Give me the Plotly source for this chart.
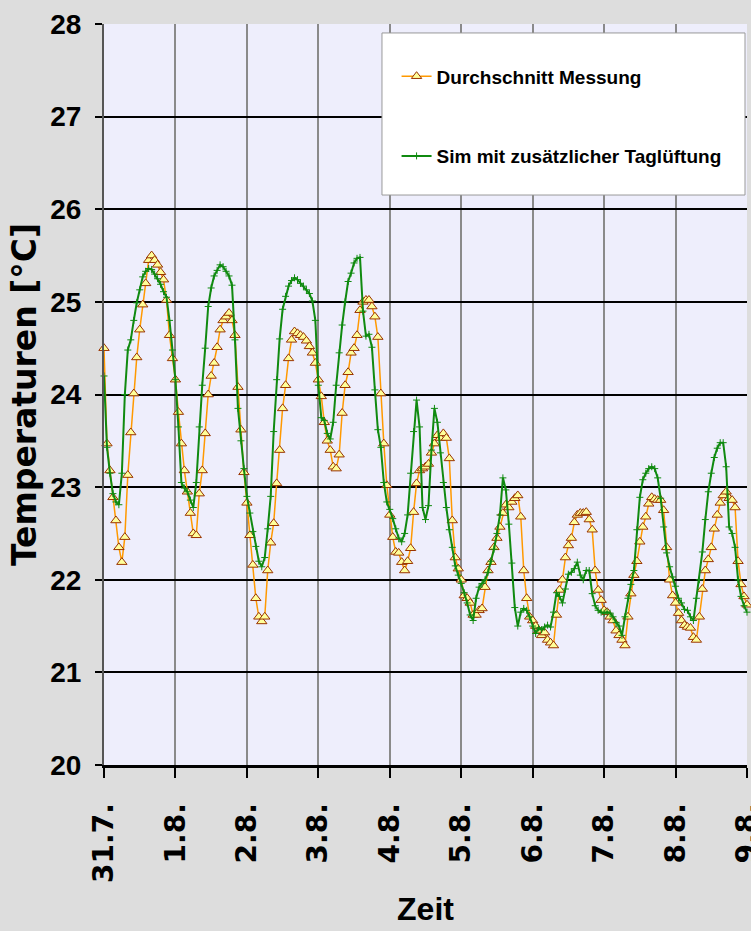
import plotly.graph_objects as go

# ---------------- data ----------------
tick_labels = ["31.7.", "1.8.", "2.8.", "3.8.", "4.8.", "5.8.", "6.8.", "7.8.", "8.8.", "9.8."]

# hourly measured average temperature [°C], 31.7. 00:00 ... 9.8. 00:00
mess_d0 = [24.5, 23.47, 23.18, 22.89, 22.64, 22.35, 22.19, 22.46, 23.13, 23.59, 24.01, 24.40,
           24.70, 24.97, 25.20, 25.45, 25.50, 25.45, 25.40, 25.32, 25.24, 25.02, 24.64, 24.39]
mess_d1 = [24.16, 23.81, 23.47, 23.18, 22.95, 22.72, 22.50, 22.48, 22.93, 23.18, 23.58, 24.00,
           24.20, 24.34, 24.51, 24.70, 24.80, 24.84, 24.88, 24.80, 24.64, 24.08, 23.62, 23.16]
mess_d2 = [22.83, 22.48, 22.16, 21.80, 21.60, 21.55, 21.60, 22.10, 22.40, 22.61, 23.04, 23.40,
           23.85, 24.10, 24.39, 24.59, 24.68, 24.66, 24.64, 24.62, 24.58, 24.52, 24.45, 24.34]
mess_d3 = [24.16, 23.98, 23.70, 23.50, 23.40, 23.22, 23.20, 23.35, 23.80, 24.10, 24.24, 24.45,
           24.50, 24.64, 24.91, 25.00, 25.02, 25.02, 24.95, 24.84, 24.62, 24.01, 23.47, 23.02]
mess_d4 = [22.70, 22.46, 22.30, 22.29, 22.19, 22.10, 22.20, 22.34, 22.73, 23.04, 23.18, 23.20,
           23.22, 23.25, 23.37, 23.47, 23.56, 23.53, 23.58, 23.53, 23.31, 22.64, 22.24, 22.12]
mess_d5 = [22.00, 21.83, 21.80, 21.75, 21.62, 21.62, 21.67, 21.69, 21.92, 22.10, 22.19, 22.35,
           22.45, 22.57, 22.72, 22.81, 22.78, 22.84, 22.88, 22.91, 22.68, 22.10, 21.80, 21.60]
mess_d6 = [21.56, 21.50, 21.45, 21.40, 21.43, 21.35, 21.32, 21.29, 21.62, 21.89, 22.00, 22.24,
           22.37, 22.45, 22.62, 22.70, 22.72, 22.72, 22.73, 22.65, 22.54, 22.10, 21.89, 21.78]
mess_d7 = [21.67, 21.65, 21.60, 21.56, 21.45, 21.40, 21.35, 21.29, 21.60, 21.85, 22.05, 22.20,
           22.41, 22.57, 22.68, 22.82, 22.89, 22.87, 22.86, 22.86, 22.75, 22.35, 22.00, 21.83]
mess_d8 = [21.75, 21.64, 21.56, 21.51, 21.49, 21.48, 21.38, 21.35, 21.60, 21.90, 22.10, 22.22,
           22.35, 22.55, 22.70, 22.83, 22.91, 22.95, 22.88, 22.86, 22.78, 22.20, 21.95, 21.82]
mess_end = [21.73]

# hourly simulation with additional daytime ventilation [°C]
sim_d0 = [24.20, 23.43, 23.15, 22.93, 22.84, 22.81, 23.15, 24.00, 24.48, 24.59, 24.80, 24.99,
          25.13, 25.27, 25.33, 25.36, 25.35, 25.30, 25.25, 25.19, 25.11, 25.05, 24.80, 24.48]
sim_d1 = [24.16, 23.65, 23.05, 22.99, 22.95, 22.86, 22.78, 23.05, 23.65, 24.10, 24.50, 24.95,
          25.15, 25.28, 25.34, 25.40, 25.38, 25.33, 25.28, 25.18, 24.59, 23.85, 23.50, 23.20]
sim_d2 = [22.90, 22.72, 22.52, 22.36, 22.20, 22.14, 22.24, 22.55, 22.90, 23.60, 24.16, 24.60,
          24.92, 25.06, 25.17, 25.23, 25.26, 25.24, 25.20, 25.17, 25.13, 25.09, 25.01, 24.80]
sim_d3 = [24.10, 23.75, 23.72, 23.58, 23.52, 23.70, 24.10, 24.45, 24.75, 25.00, 25.22, 25.31,
          25.42, 25.47, 25.48, 24.90, 24.63, 24.65, 24.51, 24.05, 23.62, 23.43, 23.05, 22.84]
sim_d4 = [22.76, 22.66, 22.55, 22.45, 22.41, 22.50, 22.70, 23.15, 23.60, 23.94, 23.65, 22.78,
          22.65, 22.80, 23.40, 23.85, 23.70, 23.37, 23.05, 22.78, 22.54, 22.35, 22.15, 22.05]
sim_d5 = [21.96, 21.86, 21.75, 21.62, 21.56, 21.80, 21.92, 21.96, 22.00, 22.08, 22.20, 22.33,
          22.50, 22.70, 23.10, 22.97, 22.60, 22.18, 21.70, 21.50, 21.65, 21.69, 21.67, 21.60]
sim_d6 = [21.50, 21.42, 21.48, 21.46, 21.49, 21.51, 21.49, 21.65, 21.86, 21.82, 21.75, 21.90,
          22.06, 22.08, 22.12, 22.19, 22.05, 22.00, 22.10, 22.10, 21.85, 21.72, 21.67, 21.65]
sim_d7 = [21.64, 21.65, 21.64, 21.60, 21.54, 21.50, 21.40, 21.60, 21.80, 21.95, 22.10, 22.54,
          22.89, 23.08, 23.15, 23.20, 23.22, 23.20, 23.10, 22.88, 22.57, 22.29, 22.14, 22.03]
sim_d8 = [21.93, 21.80, 21.75, 21.68, 21.67, 21.60, 21.56, 21.80, 22.00, 22.30, 22.65, 22.95,
          23.15, 23.32, 23.42, 23.48, 23.48, 23.22, 22.57, 22.50, 22.35, 22.00, 21.82, 21.72]
sim_end = [21.65]

y_ticks = [20, 21, 22, 23, 24, 25, 26, 27, 28]

# ---------------- build ----------------
mess = (mess_d0 + mess_d1 + mess_d2 + mess_d3 + mess_d4 + mess_d5 + mess_d6 + mess_d7
        + mess_d8 + mess_end)
sim = (sim_d0 + sim_d1 + sim_d2 + sim_d3 + sim_d4 + sim_d5 + sim_d6 + sim_d7
       + sim_d8 + sim_end)
t_mess = [i / 24 for i in range(len(mess))]
t_sim = [i / 24 for i in range(len(sim))]

fig = go.Figure()
fig.add_trace(go.Scatter(
    x=t_mess, y=mess, name="Durchschnitt Messung", mode="lines+markers",
    legendgroup="a",
    line=dict(color="#FF9900", width=1.5),
    marker=dict(symbol="triangle-up", size=9, color="#FFFF99",
                line=dict(color="#993300", width=1)),
    cliponaxis=False,
))
fig.add_trace(go.Scatter(
    x=t_sim, y=sim, name="Sim mit zusätzlicher Taglüftung", mode="lines+markers",
    legendgroup="b",
    line=dict(color="#108A10", width=2),
    marker=dict(symbol="cross-thin", size=5, color="#108A10",
                line=dict(color="#108A10", width=1)),
    cliponaxis=False,
))

sans = "Liberation Sans, Arial, sans-serif"
wide = "DejaVu Sans, Verdana, sans-serif"

fig.update_layout(
    width=751, height=931,
    margin=dict(l=104, r=4, t=24, b=166, pad=0, autoexpand=False),
    paper_bgcolor="#DDDDDD",
    plot_bgcolor="#EEEEFC",
    showlegend=True,
    legend=dict(
        x=0.455, y=0.955, xanchor="left", yanchor="top",
        bgcolor="rgba(0,0,0,0)", borderwidth=0,
        font=dict(family=sans, size=19, color="black", weight="bold"),
        tracegroupgap=52, itemwidth=30,
    ),
    shapes=[dict(type="rect", xref="paper", yref="paper",
                 x0=0.4323, x1=0.9969, y0=0.7692, y1=0.9879,
                 fillcolor="white", line=dict(color="#999999", width=1), layer="above")],
    xaxis=dict(
        range=[0, 9], tickmode="array", tickvals=list(range(10)), ticktext=tick_labels,
        tickangle=-90, ticks="outside", ticklen=10, tickwidth=2, tickcolor="black",
        ticklabelstandoff=14, automargin=False, ticklabeloverflow="allow",
        tickfont=dict(family=wide, size=28, color="black", weight="bold"),
        showgrid=True, gridcolor="#8A8A8A", gridwidth=2,
        showline=True, linecolor="black", linewidth=3,
        zeroline=False,
        title=dict(text="Zeit", font=dict(family=sans, size=32, color="black", weight="bold"),
                   standoff=16),
    ),
    yaxis=dict(
        range=[20, 28], tickmode="array", tickvals=y_ticks,
        ticks="outside", ticklen=7, tickwidth=2, tickcolor="black",
        ticklabelstandoff=8, automargin=False,
        tickfont=dict(family=sans, size=28, color="black", weight="bold"),
        showgrid=True, gridcolor="black", gridwidth=2,
        showline=True, linecolor="#555555", linewidth=2,
        zeroline=False,
        title=dict(text="Temperaturen [°C]",
                   font=dict(family=wide, size=33, color="black", weight="bold"),
                   standoff=4),
    ),
)

fig.write_html("out.html")
